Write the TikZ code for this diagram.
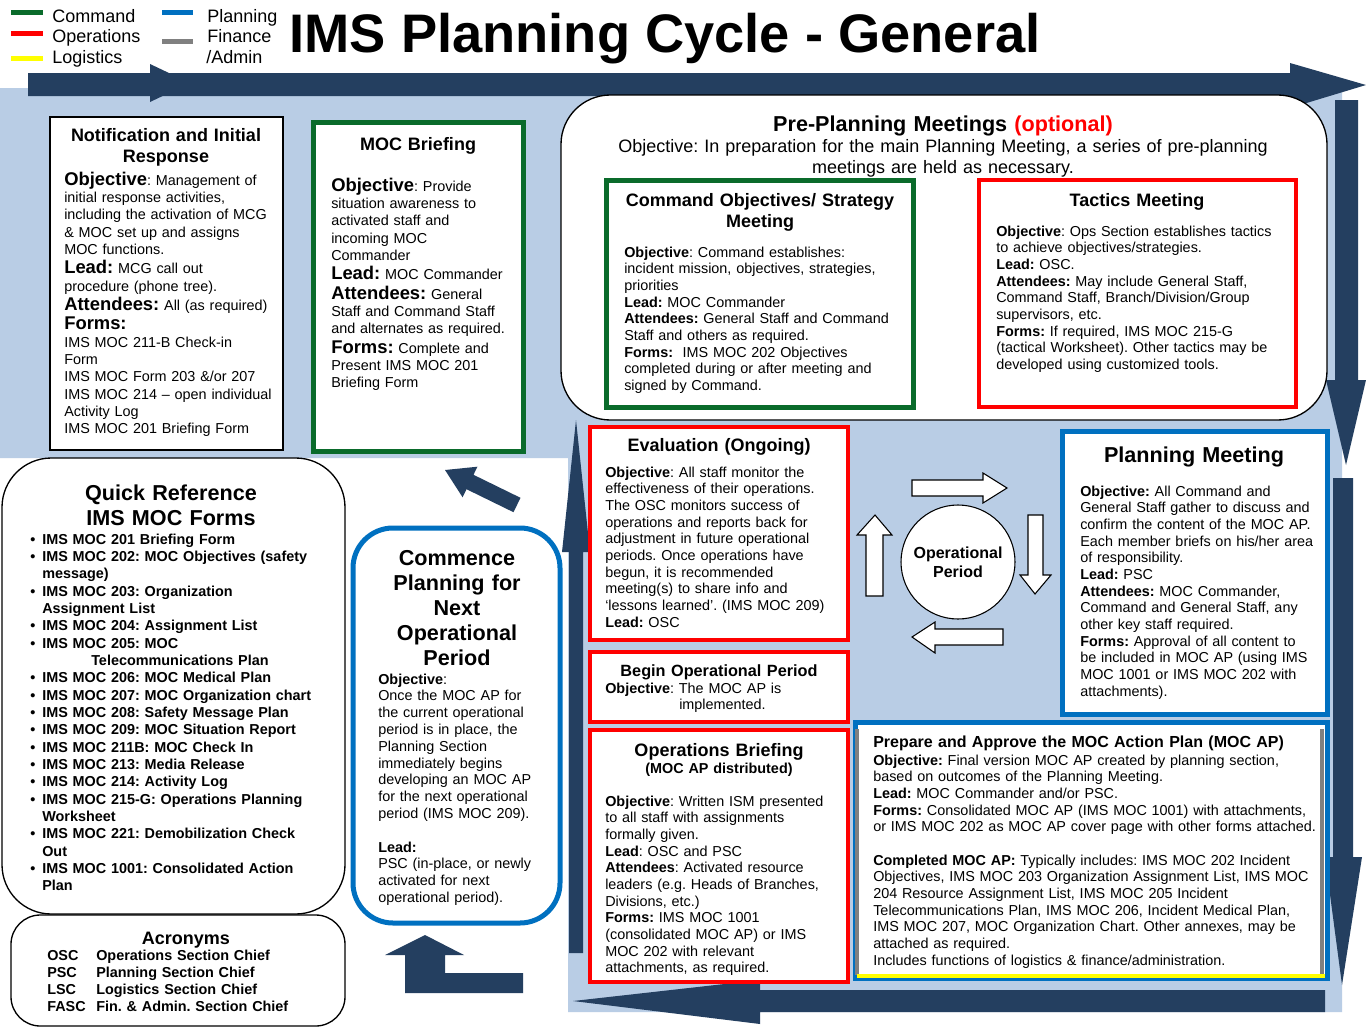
\documentclass[tikz,border=0pt]{standalone}
\usepackage{fontspec}
\setmainfont{Liberation Sans}
\usetikzlibrary{fit}
\definecolor{navy}{HTML}{243F60}
\definecolor{skyfill}{HTML}{B9CDE5}
\definecolor{cmdgreen}{HTML}{0A6B2B}
\definecolor{opsred}{HTML}{FF0000}
\definecolor{planblue}{HTML}{0070C0}
\definecolor{fingray}{HTML}{808080}
\definecolor{logyellow}{HTML}{FFFF00}
\newcommand\bighd[1]{{\fontsize{13.8}{13}\selectfont\bfseries #1}}
\newcommand\qbul{\makebox[9pt][l]{\textbullet}}
\newcommand\qind{\hspace*{9pt}}
\newcommand\acro[2]{\makebox[36.75pt][l]{#1}#2}
\frenchspacing

\begin{document}
\begin{tikzpicture}[
  x=.75pt,y=-.75pt,
  card/.style={fill=white,inner sep=0pt},
  ttl/.style={anchor=base,inner sep=0pt,text width=260pt,align=center,
              font=\bfseries\fontsize{13.5}{15.75}\selectfont},
  bigttl/.style={anchor=base,inner sep=0pt,text width=260pt,align=center,
                 font=\bfseries\fontsize{16.2}{18.75}\selectfont},
  body/.style={anchor=base west,inner sep=0pt,text width=380pt,align=left,
               font=\fontsize{10.8}{12.5}\selectfont},
  legline/.style={line width=3.75pt},
  legtext/.style={anchor=base west,inner sep=0pt,font=\fontsize{13.5}{15}\selectfont},
  ring/.style={draw=black,fill=white,line width=.8pt}
]
\useasboundingbox[fill=white] (0,0) rectangle (1366,1028);

% legend and title
\draw[legline,cmdgreen] (11,12) -- (43,12);
\draw[legline,opsred] (11,33) -- (43,33);
\draw[legline,logyellow] (11,58) -- (43,58);
\draw[legline,planblue] (162,12) -- (193,12);
\draw[legline,fingray] (162,41) -- (193,41);
\node[legtext] (legcmd) at (52,22) {Command};
\node[legtext] (legops) at (52,42.5) {Operations};
\node[legtext] (leglog) at (52,63) {Logistics};
\node[legtext] (legplan) at (207,22) {Planning};
\node[legtext] (legfin) at (207,42.5) {Finance};
\node[legtext] (legadm) at (206,63) {/Admin};
\node[anchor=base,inner sep=0pt,font=\bfseries\fontsize{40.7}{44}\selectfont]
  (maintitle) at (665,52) {IMS Planning Cycle - General};

% light blue panel
\fill[skyfill] (0,88) -- (1342,88) -- (1342,1012) -- (568,1012) -- (568,458)
  -- (0,458) -- cycle;

% cycle arrows
\fill[navy] (28,73) -- (1290,73) -- (1290,63) -- (1366,85) -- (1290,108)
  -- (1290,96) -- (28,96) -- cycle;
\fill[navy] (150,64) -- (190,83) -- (150,102) -- cycle;
\fill[navy] (1335,100) -- (1358,100) -- (1358,380) -- (1366,380) -- (1346,465)
  -- (1326,380) -- (1335,380) -- cycle;
\fill[navy] (1333,478) -- (1353,478) -- (1353,857) -- (1362,857) -- (1342,985)
  -- (1325,857) -- (1333,857) -- cycle;
\fill[navy] (1325,990) -- (760,990) -- (760,980) -- (573,1001) -- (760,1024)
  -- (760,1012) -- (1325,1012) -- cycle;
\fill[navy] (569,953) -- (569,552) -- (562,552) -- (576,420) -- (590,552)
  -- (583,552) -- (583,953) -- cycle;
\fill[navy] (520.5,497.8) -- (473.5,474.8) -- (477.4,466.7) -- (445,470)
  -- (462.6,497.3) -- (466.5,489.2) -- (513.5,512.2) -- cycle;
\fill[navy] (425,935) -- (464,955) -- (445,955) -- (445,973) -- (523,973)
  -- (523,993) -- (405,993) -- (405,955) -- (385,955) -- cycle;

% boxes
\node[card,draw=black,line width=1.1pt,fit={(50,117) (283,450)}] (notif) {};
\node[card,draw=cmdgreen,line width=3.75pt,fit={(313,122) (523,451)}] (mocbrief) {};
\node[card,draw=black,line width=1pt,rounded corners=37pt,fit={(561,95) (1327,420)}] (preplan) {};
\node[card,draw=cmdgreen,line width=3.75pt,fit={(606,180) (913,407)}] (cmdobj) {};
\node[card,draw=opsred,line width=3.5pt,fit={(979,180) (1296,407)}] (tactics) {};
\node[card,draw=opsred,line width=3pt,fit={(590,427) (848,640)}] (evalbox) {};
\node[card,draw=opsred,line width=3pt,fit={(590,652) (848,722)}] (beginop) {};
\node[card,draw=opsred,line width=3pt,fit={(590,730) (848,982)}] (opsbrief) {};
\node[card,draw=planblue,line width=3.75pt,fit={(1062,431) (1327,714)}] (planmtg) {};
\node[card,draw=planblue,line width=3.75pt,fit={(855,722) (1327,978)}] (prepap) {};
\draw[fingray,line width=3pt] (857,729) -- (857,975);
\draw[fingray,line width=3pt] (1322,729) -- (1322,975);
\draw[logyellow,line width=3.5pt] (857,976) -- (1325,976);
\node[card,draw=black,line width=1pt,rounded corners=37pt,fit={(2,458) (345,914)}] (quickref) {};
\node[card,draw=black,line width=1pt,rounded corners=22pt,fit={(11,915) (345,1026)}] (acronyms) {};
\node[card,draw=planblue,line width=3.75pt,rounded corners=30pt,fit={(353,528) (560,923)}] (commence) {};

% operational period ring
\node[ring,circle,minimum size=85.5pt,align=center,
      font=\bfseries\fontsize{12}{14}\selectfont] (opcircle) at (958,562)
  {Operational\\Period};
\filldraw[ring] (912,480) -- (983,480) -- (983,473) -- (1007,488) -- (983,503)
  -- (983,496) -- (912,496) -- cycle;
\filldraw[ring] (1028,515) -- (1043,515) -- (1043,575) -- (1051,575) -- (1035,594)
  -- (1020,575) -- (1028,575) -- cycle;
\filldraw[ring] (1003,629) -- (935,629) -- (935,622) -- (912,637) -- (935,653)
  -- (935,645) -- (1003,645) -- cycle;
\filldraw[ring] (866,596) -- (866,535) -- (857,535) -- (875,515) -- (892,535)
  -- (883,535) -- (883,596) -- cycle;

% Notification and Initial Response
\node[ttl] (notiftitle) at (166,141) {Notification and Initial\\Response};
\node[body,font=\fontsize{10.8}{13}\selectfont] (notiftext) at (64,185) {%
  \bighd{Objective}: Management of\\
  initial response activities,\\
  including the activation of MCG\\
  \& MOC set up and assigns\\
  MOC functions.\\[1.5pt]
  \bighd{Lead:} MCG call out\\
  procedure (phone tree).\\[1.5pt]
  \bighd{Attendees:} All (as required)\\[1.5pt]
  \bighd{Forms:}\\
  IMS MOC 211-B Check-in\\
  Form\\
  IMS MOC Form 203 \&/or 207\\
  IMS MOC 214 -- open individual\\
  Activity Log\\
  IMS MOC 201 Briefing Form};

% MOC Briefing
\node[ttl] (mocbrieftitle) at (418,150) {MOC Briefing};
\node[body,font=\fontsize{10.8}{13}\selectfont] (mocbrieftext) at (331,191) {%
  \bighd{Objective}: Provide\\
  situation awareness to\\
  activated staff and\\
  incoming MOC\\
  Commander\\[1.5pt]
  \bighd{Lead:} MOC Commander\\[1.5pt]
  \bighd{Attendees:} General\\
  Staff and Command Staff\\
  and alternates as required.\\[1.5pt]
  \bighd{Forms:} Complete and\\
  Present IMS MOC 201\\
  Briefing Form};

% Pre-Planning Meetings
\node[bigttl,text width=500pt] (pretitle) at (943,131)
  {Pre-Planning Meetings \textcolor{opsred}{(optional)}};
\node[anchor=base,inner sep=0pt,text width=540pt,align=center,
      font=\fontsize{13.5}{15.75}\selectfont] (preobj) at (943,152.5)
  {Objective: In preparation for the main Planning Meeting, a series of pre-planning\\
   meetings are held as necessary.};

\node[ttl] (cmdobjtitle) at (760,206.5) {Command Objectives/ Strategy\\Meeting};
\node[body] (cmdobjtext) at (624,257) {%
  \textbf{Objective}: Command establishes:\\
  incident mission, objectives, strategies,\\
  priorities\\
  \textbf{Lead:} MOC Commander\\
  \textbf{Attendees:} General Staff and Command\\
  Staff and others as required.\\
  \textbf{Forms:}\ \ IMS MOC 202 Objectives\\
  completed during or after meeting and\\
  signed by Command.};

\node[ttl] (tacticstitle) at (1137,206.5) {Tactics Meeting};
\node[body] (tacticstext) at (996,236) {%
  \textbf{Objective}: Ops Section establishes tactics\\
  to achieve objectives/strategies.\\
  \textbf{Lead:} OSC.\\
  \textbf{Attendees:} May include General Staff,\\
  Command Staff, Branch/Division/Group\\
  supervisors, etc.\\
  \textbf{Forms:} If required, IMS MOC 215-G\\
  (tactical Worksheet). Other tactics may be\\
  developed using customized tools.};

% Evaluation
\node[ttl] (evaltitle) at (719,451.5) {Evaluation (Ongoing)};
\node[body] (evaltext) at (605,477) {%
  \textbf{Objective}: All staff monitor the\\
  effectiveness of their operations.\\
  The OSC monitors success of\\
  operations and reports back for\\
  adjustment in future operational\\
  periods. Once operations have\\
  begun, it is recommended\\
  meeting(s) to share info and\\
  `lessons learned'. (IMS MOC 209)\\
  \textbf{Lead:} OSC};

% Begin Operational Period
\node[ttl,font=\bfseries\fontsize{12.2}{14}\selectfont] (begintitle) at (719,676)
  {Begin Operational Period};
\node[body] (begintext) at (605,693) {%
  \textbf{Objective}: The MOC AP is\\
  \hspace*{55.5pt}implemented.};

% Operations Briefing
\node[ttl] (opstitle) at (719,756.5) {Operations Briefing};
\node[ttl,font=\bfseries\fontsize{10.8}{12.5}\selectfont] (opssub) at (719,773)
  {(MOC AP distributed)};
\node[body] (opstext) at (605,806) {%
  \textbf{Objective}: Written ISM presented\\
  to all staff with assignments\\
  formally given.\\
  \textbf{Lead}: OSC and PSC\\
  \textbf{Attendees}: Activated resource\\
  leaders (e.g. Heads of Branches,\\
  Divisions, etc.)\\
  \textbf{Forms:} IMS MOC 1001\\
  (consolidated MOC AP) or IMS\\
  MOC 202 with relevant\\
  attachments, as required.};

% Planning Meeting
\node[bigttl] (plantitle) at (1194,462.5) {Planning Meeting};
\node[body] (plantext) at (1080,496) {%
  \textbf{Objective:} All Command and\\
  General Staff gather to discuss and\\
  confirm the content of the MOC AP.\\
  Each member briefs on his/her area\\
  of responsibility.\\
  \textbf{Lead:} PSC\\
  \textbf{Attendees:} MOC Commander,\\
  Command and General Staff, any\\
  other key staff required.\\
  \textbf{Forms:} Approval of all content to\\
  be included in MOC AP (using IMS\\
  MOC 1001 or IMS MOC 202 with\\
  attachments).};

% Prepare and Approve the MOC AP
\node[body,font=\bfseries\fontsize{12}{14}\selectfont] (preptitle) at (873,747)
  {Prepare and Approve the MOC Action Plan (MOC AP)};
\node[body] (preptext) at (873,765) {%
  \textbf{Objective:} Final version MOC AP created by planning section,\\
  based on outcomes of the Planning Meeting.\\
  \textbf{Lead:} MOC Commander and/or PSC.\\
  \textbf{Forms:} Consolidated MOC AP (IMS MOC 1001) with attachments,\\
  or IMS MOC 202 as MOC AP cover page with other forms attached.\\[12.5pt]
  \textbf{Completed MOC AP:} Typically includes: IMS MOC 202 Incident\\
  Objectives, IMS MOC 203 Organization Assignment List, IMS MOC\\
  204 Resource Assignment List, IMS MOC 205 Incident\\
  Telecommunications Plan, IMS MOC 206, Incident Medical Plan,\\
  IMS MOC 207, MOC Organization Chart. Other annexes, may be\\
  attached as required.\\
  Includes functions of logistics \& finance/administration.};

% Commence Planning
\node[bigttl] (commtitle) at (457,565.7)
  {Commence\\Planning for\\Next\\Operational\\Period};
\node[body,font=\fontsize{10.8}{12.6}\selectfont] (commtext) at (378,684) {%
  \textbf{Objective}:\\
  Once the MOC AP for\\
  the current operational\\
  period is in place, the\\
  Planning Section\\
  immediately begins\\
  developing an MOC AP\\
  for the next operational\\
  period (IMS MOC 209).\\[12.6pt]
  \textbf{Lead:}\\
  PSC (in-place, or newly\\
  activated for next\\
  operational period).};

% Quick Reference
\node[bigttl] (quicktitle) at (171,500.7) {Quick Reference\\IMS MOC Forms};
\node[body,font=\bfseries\fontsize{10.8}{13}\selectfont] (quicklist) at (30,544) {%
  \qbul IMS MOC 201 Briefing Form\\
  \qbul IMS MOC 202: MOC Objectives (safety\\
  \qind message)\\
  \qbul IMS MOC 203: Organization\\
  \qind Assignment List\\
  \qbul IMS MOC 204: Assignment List\\
  \qbul IMS MOC 205: MOC\\
  \hspace*{45.75pt}Telecommunications Plan\\
  \qbul IMS MOC 206: MOC Medical Plan\\
  \qbul IMS MOC 207: MOC Organization chart\\
  \qbul IMS MOC 208: Safety Message Plan\\
  \qbul IMS MOC 209: MOC Situation Report\\
  \qbul IMS MOC 211B: MOC Check In\\
  \qbul IMS MOC 213: Media Release\\
  \qbul IMS MOC 214: Activity Log\\
  \qbul IMS MOC 215-G: Operations Planning\\
  \qind Worksheet\\
  \qbul IMS MOC 221: Demobilization Check\\
  \qind Out\\
  \qbul IMS MOC 1001: Consolidated Action\\
  \qind Plan};

% Acronyms
\node[ttl] (acrotitle) at (186,944.5) {Acronyms};
\node[body,font=\bfseries\fontsize{10.8}{12.75}\selectfont] (acrolist) at (47,960) {%
  \acro{OSC}{Operations Section Chief}\\
  \acro{PSC}{Planning Section Chief}\\
  \acro{LSC}{Logistics Section Chief}\\
  \acro{FASC}{Fin. \& Admin. Section Chief}};

\end{tikzpicture}
\end{document}
